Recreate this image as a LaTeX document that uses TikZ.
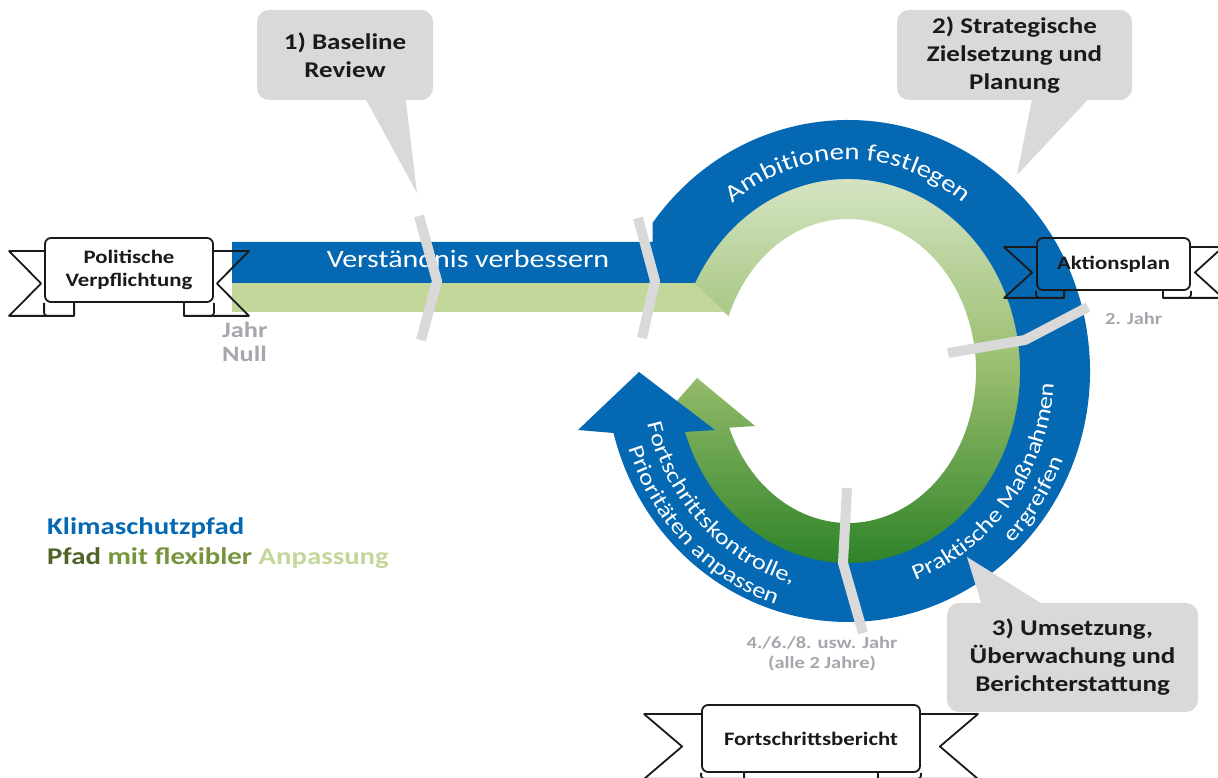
\documentclass[tikz,border=0pt]{standalone}
\usepackage{fontspec}
\setmainfont{Carlito}[FakeStretch=1.2]
\usepackage{tikz}
\usetikzlibrary{calc,decorations.text}
\definecolor{pathblue}{HTML}{0468B2}
\definecolor{bandgreen}{HTML}{C4D79B}
\definecolor{arcpale}{HTML}{DDE9CF}
\definecolor{arcmid}{HTML}{98BD6C}
\definecolor{arcdeep}{HTML}{1E7A1E}
\definecolor{calloutgray}{HTML}{D9D9D9}
\definecolor{yeargray}{HTML}{A6A6AE}
\definecolor{inkdark}{HTML}{1A1A1A}
\definecolor{olivedark}{HTML}{4F6228}
\definecolor{olivemid}{HTML}{77933C}

% #1 box node, #2 tail length, #3 notch depth, #4 tail drop, #5 fold height, #6 fold width
\newcommand{\banner}[6]{%
  \draw[bnrline] ($(#1.north west)+(0,-#4)$) -- ++(-#2,0)
    -- ($(#1.west)+({#3-#2},{-(#4+#5)/2})$)
    -- ($(#1.south west)+(-#2,-#5)$) -- ($(#1.south west)+(#6,-#5)$) -- ++(0,#5);
  \draw[bnrline] ($(#1.north east)+(0,-#4)$) -- ++(#2,0)
    -- ($(#1.east)+({#2-#3},{-(#4+#5)/2})$)
    -- ($(#1.south east)+(#2,-#5)$) -- ($(#1.south east)+(-#6,-#5)$) -- ++(0,#5);
  \draw[bnrline] (#1.south west) -- ++(0,{3-#5}) arc[start angle=180, end angle=270, radius=3];
  \draw[bnrline] (#1.south east) -- ++(0,{3-#5}) arc[start angle=0, end angle=-90, radius=3];
}

\begin{document}
\begin{tikzpicture}[x=1pt, y=1pt,
  bub/.style={fill=calloutgray, rounded corners=12, align=center, inner sep=0pt, text=inkdark, font=\bfseries\fontsize{22.5}{28}\selectfont},
  bnr/.style={draw=inkdark, line width=1.8, rounded corners=6, inner sep=0pt, align=center, text=inkdark, font=\bfseries\fontsize{19}{23}\selectfont},
  bnrline/.style={draw=inkdark, line width=1.8, line join=round},
  divider/.style={draw=calloutgray, line width=10},
  yr/.style={text=yeargray, font=\bfseries\fontsize{17}{20}\selectfont, align=center, inner sep=0pt},
  lgd/.style={anchor=base west, inner sep=0pt, font=\bfseries\fontsize{24}{28}\selectfont},
  arctxt/.style={decorate, decoration={text along path, text color=white, text align=center}},
]
  \path[use as bounding box, fill=white] (0,0) rectangle (1218,778);
  \coordinate (ring) at (848,407);

  % green path
  \fill[bandgreen] (232,466) -- (232,495) -- (695.2,495.1) -- (723.7,466) -- cycle;
  \shade[top color=arcpale, bottom color=arcdeep, middle color=arcmid]
    ($(ring)+(152.7:174 and 194)$) arc[start angle=152.7, end angle=-161.5, x radius=174, y radius=194]
    -- (655,352) -- (697,400) -- (755,352)
    -- ($(ring)+(-158.1:128 and 152)$) arc[start angle=-158.1, end angle=158.9, x radius=128, y radius=152]
    -- cycle;

  % blue path
  \fill[pathblue] (232,495) -- (232,536) -- (652.7,536)
    -- ($(ring)+(143.8:242 and 251)$) arc[start angle=143.8, end angle=-165.7, x radius=242, y radius=251]
    -- (578,348) -- (639,406) -- (715,348)
    -- ($(ring)+(-161.5:172 and 192)$) arc[start angle=-161.5, end angle=152.7, x radius=172, y radius=192]
    -- cycle;

  \node[font=\fontsize{25}{30}\selectfont, text=white, anchor=base, inner sep=0pt] (bandtxt) at (468,510) {Verständnis verbessern};
  \path[arctxt, decoration={text={|\fontsize{24}{24}\selectfont|Ambitionen festlegen}}]
    ($(ring)+(160:190 and 211)$) arc[start angle=160, end angle=20, x radius=190, y radius=211];
  \path[arctxt, decoration={text={|\fontsize{22}{22}\selectfont|Praktische Maßnahmen}}]
    ($(ring)+(-100:206 and 221)$) arc[start angle=-100, end angle=24, x radius=206, y radius=221];
  \path[arctxt, decoration={text={|\fontsize{22}{22}\selectfont|ergreifen}}]
    ($(ring)+(-94:231 and 246)$) arc[start angle=-94, end angle=26, x radius=231, y radius=246];
  \path[arctxt, decoration={text={|\fontsize{22}{22}\selectfont|Fortschrittskontrolle,}}]
    ($(ring)+(165:206 and 221)$) arc[start angle=165, end angle=285, x radius=206, y radius=221];
  \path[arctxt, decoration={text={|\fontsize{22}{22}\selectfont|Prioritäten anpassen}}]
    ($(ring)+(166:231 and 246)$) arc[start angle=166, end angle=286, x radius=231, y radius=246];

  \draw[divider] (419,562) -- (437,497) -- (421,438);
  \draw[divider] (638,560) -- (655,497) -- (642,440);
  \draw[divider] (948,425) -- (1025,438) -- (1088,471);
  \draw[divider] (847,290) -- (843,215) -- (863,145);

  % callouts
  \node[bub, minimum width=176, minimum height=90] (review) at (345,723) {1) Baseline\\Review};
  \coordinate (reviewtip) at (417,585);
  \fill[calloutgray] ($(review.south)+(18,6)$) -- (reviewtip) -- ($(review.south)+(60,6)$) -- cycle;
  \node[bub, minimum width=235, minimum height=90] (strategy) at (1014.5,723) {2) Strategische\\Zielsetzung und\\Planung};
  \coordinate (strategytip) at (1017,603);
  \fill[calloutgray] ($(strategy.south)+(18.5,6)$) -- (strategytip) -- ($(strategy.south)+(78.5,6)$) -- cycle;
  \node[bub, minimum width=251, minimum height=109] (action) at (1072.5,120.5) {3) Umsetzung,\\Überwachung und\\Berichterstattung};
  \coordinate (actiontip) at (967,221);
  \fill[calloutgray] ($(action.north)+(-89.5,-6)$) -- (actiontip) -- ($(action.north)+(-22.5,-6)$) -- cycle;

  % banners
  \node[bnr, minimum width=168, minimum height=64] (pledge) at (129,508) {Politische\\Verpflichtung};
  \banner{pledge}{35}{32}{14}{13}{30}
  \node[bnr, minimum width=153, minimum height=52] (plan) at (1113.5,514) {Aktionsplan};
  \banner{plan}{32}{28}{10}{7}{28}
  \node[bnr, minimum width=218, minimum height=67] (report) at (811,39.5) {Fortschrittsbericht};
  \banner{report}{57}{38}{10}{6}{43}

  % years and legend
  \node[yr, anchor=north west, align=left, font=\bfseries\fontsize{22}{24}\selectfont] (yearzero) at (222,456) {Jahr\\Null};
  \node[yr, anchor=base west] (yeartwo) at (1105,453) {2. Jahr};
  \node[yr, anchor=north] (yeareven) at (822,142) {4./6./8. usw. Jahr\\(alle 2 Jahre)};
  \node[lgd, text=pathblue] (klima) at (47,243) {Klimaschutzpfad};
  \node[lgd] (flex) at (47,213) {\textcolor{olivedark}{Pfad} \textcolor{olivemid}{mit flexibler} \textcolor{bandgreen}{Anpassung}};
\end{tikzpicture}
\end{document}
